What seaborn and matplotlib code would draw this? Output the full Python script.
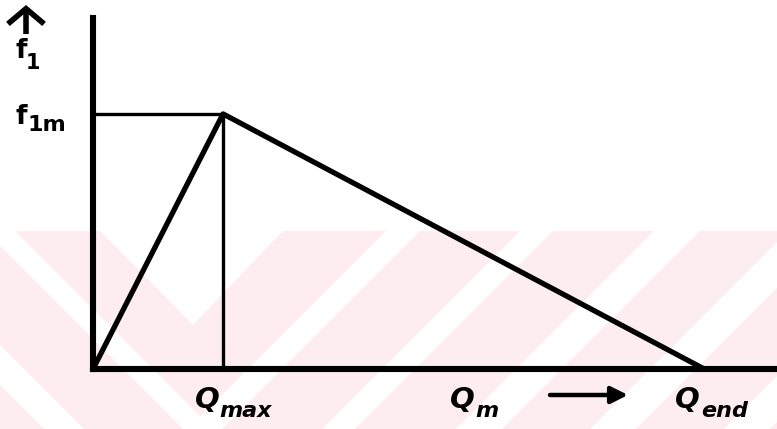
import matplotlib
matplotlib.use("Agg")
import matplotlib.pyplot as plt
import numpy as np
import pandas as pd
import seaborn as sns
from matplotlib.patches import Polygon, Rectangle, FancyArrowPatch
from matplotlib.transforms import IdentityTransform

# Characteristic: f1 rises from 0 to f1m at Qmax, then falls linearly to 0 at Qend
q_values = [0.0, 1.0, 4.70]
f1_values = [0.0, 1.0, 0.0]
Q_MAX = 1.0
Q_END = 4.70
F1M = 1.0
x_limit = 5.26
y_limit = 1.376

W, H = 777, 429

sns.set_theme(style="white")
plt.rcParams["font.family"] = ["DejaVu Sans"]
plt.rcParams["text.color"] = "black"

fig = plt.figure(figsize=(W / 100, H / 100), dpi=100)
fig.patch.set_facecolor("white")


def disp(pts):
    """pixel coords (origin top-left) -> display coords"""
    return [(x, H - y) for x, y in pts]


# faint background stripes
PINK = "#fdecf0"
band_top, band_bot = 231, 429
fig.patches.append(Rectangle((0, 0), W, H - band_top, transform=None,
                             facecolor=PINK, edgecolor="none", zorder=-2))


def back_stripe(a, b):
    # band between lines x - y = a and x - y = b
    return disp([(band_top + a, band_top), (band_top + b, band_top),
                 (band_bot + b, band_bot), (band_bot + a, band_bot)])


def fwd_stripe(a, b):
    # band between lines x + y = a and x + y = b
    return disp([(a - band_top, band_top), (b - band_top, band_top),
                 (b - band_bot, band_bot), (a - band_bot, band_bot)])


white_shapes = [
    back_stripe(-246, -216),
    back_stripe(-385, -345),
    disp([(100, band_top), (283, band_top), (193, 325)]),
]
for a, b in [(617, 651), (751, 784), (885, 931), (1019, 1065), (1153, 1199)]:
    white_shapes.append(fwd_stripe(a, b))
for pts in white_shapes:
    fig.patches.append(Polygon(pts, closed=True, transform=None,
                               facecolor="white", edgecolor="none", zorder=-1))

ax = fig.add_axes([93 / W, (H - 369) / H, (W - 93) / W, (369 - 18) / H])
ax.patch.set_alpha(0)
ax.set_xlim(0, x_limit)
ax.set_ylim(0, y_limit)

df = pd.DataFrame({"Q": q_values, "f1": f1_values})
sns.lineplot(data=df, x="Q", y="f1", sort=False, estimator=None,
             color="black", linewidth=3.8, ax=ax, clip_on=False)

# guide lines to the peak
ax.hlines(F1M, 0, Q_MAX, color="black", linewidth=2.4)
ax.vlines(Q_MAX, 0, F1M, color="black", linewidth=2.4)

for side in ["top", "right"]:
    ax.spines[side].set_visible(False)
for side in ["left", "bottom"]:
    ax.spines[side].set_color("black")
    ax.spines[side].set_linewidth(4.4)
ax.set_xticks([])
ax.set_yticks([])
ax.set_xlabel("")
ax.set_ylabel("")


def symbol(xy, coords, main, sub, dx, dy, sub_dx, sub_dy,
           size=19, sub_size=15, italic=False):
    """Main letter with a subscript, placed by pixel offsets from an anchor."""
    style = "oblique" if italic else "normal"
    ax.annotate(main, xy=xy, xycoords=coords, xytext=(dx, dy),
                textcoords="offset pixels", ha="left", va="baseline",
                fontsize=size, fontweight="bold", fontstyle=style,
                annotation_clip=False)
    ax.annotate(sub, xy=xy, xycoords=coords, xytext=(dx + sub_dx, dy + sub_dy),
                textcoords="offset pixels", ha="left", va="baseline",
                fontsize=sub_size, fontweight="bold", fontstyle=style,
                annotation_clip=False)


# y-axis labels
symbol((0, F1M), ("axes fraction", "data"), "f", "1m", -77, -10, 12, -7,
       size=19, sub_size=16)
symbol((15, H - 58), "figure pixels", "f", "1", 0, 0, 11, -11,
       size=19, sub_size=15)

# x-axis labels
symbol((Q_MAX, 0), ("data", "axes fraction"), "Q", "max", -28, -39, 24, -9,
       size=21, sub_size=16, italic=True)
symbol((Q_END, 0), ("data", "axes fraction"), "Q", "end", -29, -39, 26, -9,
       size=21, sub_size=16, italic=True)
symbol((450, H - 408), "figure pixels", "Q", "m", 0, 0, 25, -9,
       size=21, sub_size=16, italic=True)

# direction arrows
fig.add_artist(FancyArrowPatch(
    (26, H - 34), (26, H - 5), transform=IdentityTransform(),
    arrowstyle="->,head_length=11,head_width=13", mutation_scale=1,
    color="black", lw=4, shrinkA=0, shrinkB=0, capstyle="butt", joinstyle="miter"))
fig.add_artist(FancyArrowPatch(
    (550, H - 395), (628, H - 395), transform=IdentityTransform(),
    arrowstyle="-|>,head_length=10,head_width=5", mutation_scale=1,
    color="black", lw=3.2, shrinkA=0, shrinkB=0))

fig.savefig("out.png", dpi=100)
